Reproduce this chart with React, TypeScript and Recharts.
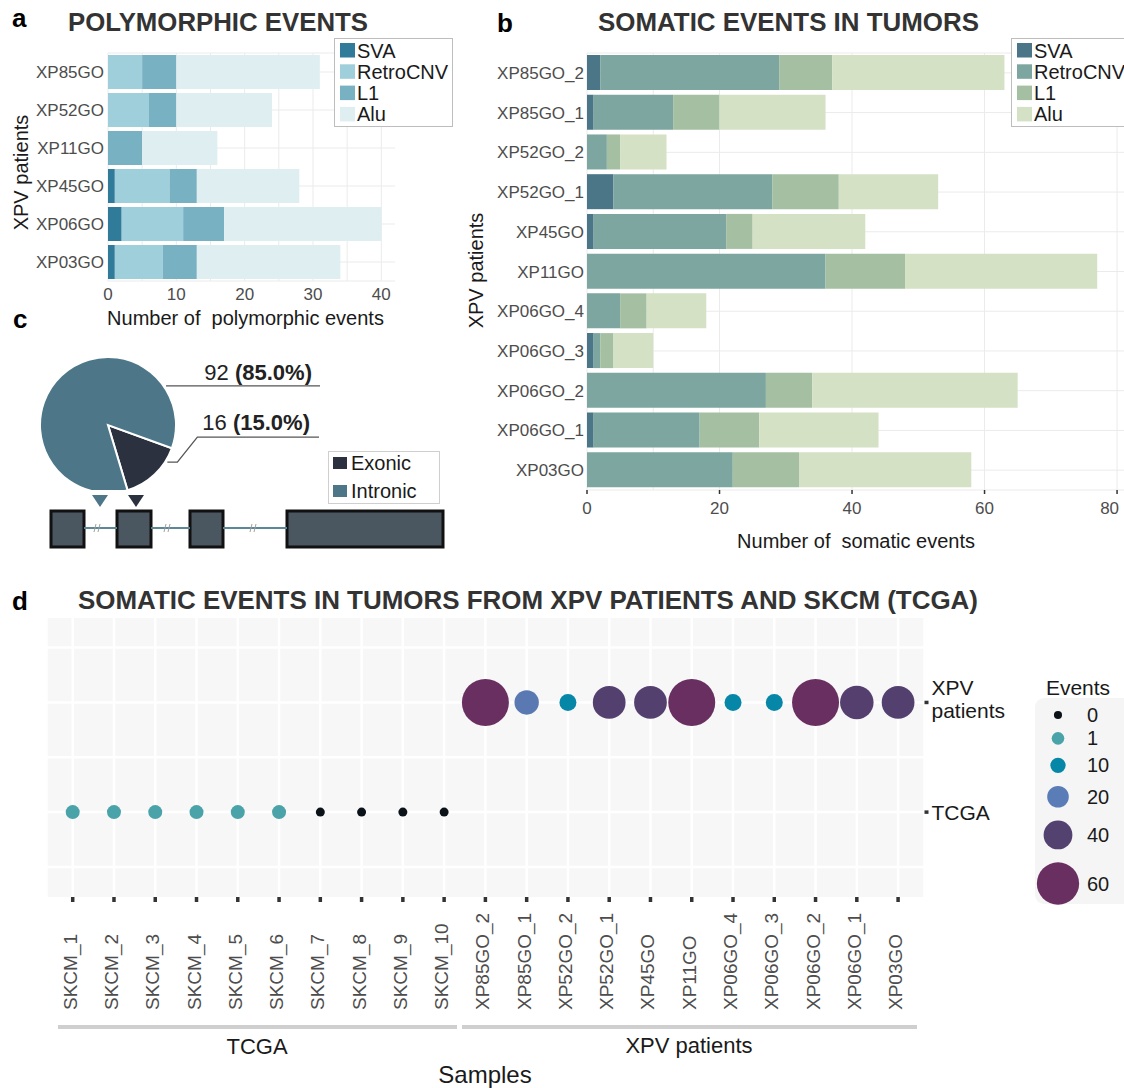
import React from "react";
import {
  BarChart,
  Bar,
  XAxis,
  YAxis,
  CartesianGrid,
  PieChart,
  Pie,
  Cell,
  ScatterChart,
  Scatter,
  ReferenceArea,
  ReferenceLine,
} from "recharts";

const FONT = '"Liberation Sans", Arial, Helvetica, sans-serif';

// ---- panel a: polymorphic events
const polyPatients = ["XP85GO", "XP52GO", "XP11GO", "XP45GO", "XP06GO", "XP03GO"];
const polySVA = [0, 0, 0, 1, 2, 1];
const polyRetroCNV = [5, 6, 0, 8, 9, 7];
const polyL1 = [5, 4, 5, 4, 6, 5];
const polyAlu = [21, 14, 11, 15, 23, 21];
const polyTicks = [0, 10, 20, 30, 40];

// ---- panel b: somatic events in tumors
const somaticSamples = [
  "XP85GO_2", "XP85GO_1", "XP52GO_2", "XP52GO_1", "XP45GO", "XP11GO",
  "XP06GO_4", "XP06GO_3", "XP06GO_2", "XP06GO_1", "XP03GO",
];
const somSVA = [2, 1, 0, 4, 1, 0, 0, 1, 0, 1, 0];
const somRetroCNV = [27, 12, 3, 24, 20, 36, 5, 1, 27, 16, 22];
const somL1 = [8, 7, 2, 10, 4, 12, 4, 2, 7, 9, 10];
const somAlu = [26, 16, 7, 15, 17, 29, 9, 6, 31, 18, 26];
const somaticTicks = [0, 20, 40, 60, 80];

const eventTypes = ["SVA", "RetroCNV", "L1", "Alu"];
const polyColors = ["#2f7b99", "#9ecfda", "#78b1c1", "#dfeef1"];
const somaticColors = ["#4a7688", "#7ca69f", "#a5bfa2", "#d4e1c5"];

// ---- panel c: location of somatic events
const locationNames = ["Exonic", "Intronic"];
const locationCounts = [16, 92];
const locationPct = ["15.0%", "85.0%"];
const locationColors = ["#2b313e", "#4d7789"];

// gene model, arbitrary units
const exons = [[51, 84], [117, 151], [190, 223], [287, 443]];
const insertionSites = [
  { pos: 100, kind: 1 },
  { pos: 136, kind: 0 },
];
const intronBreaks = [97, 167, 253];

// ---- panel d: XPV vs TCGA
const tcgaSamples = ["SKCM_1", "SKCM_2", "SKCM_3", "SKCM_4", "SKCM_5", "SKCM_6", "SKCM_7", "SKCM_8", "SKCM_9", "SKCM_10"];
const tcgaEvents = [1, 1, 1, 1, 1, 1, 0, 0, 0, 0];
const xpvSamples = somaticSamples;
const xpvEvents = [63, 21, 10, 41, 41, 66, 10, 10, 64, 42, 41];
const cohortLabels = [["TCGA"], ["XPV", "patients"]];
const eventBreaks = [0, 1, 10, 20, 40, 60];
const eventPalette = ["#0b1319", "#49a3a8", "#0787a8", "#5a7cb7", "#534170", "#6a2f61"];
const dotDiameters = [9, 14, 17, 24, 32, 47];

const polyData = polyPatients.map((patient, i) => ({
  patient,
  SVA: polySVA[i],
  RetroCNV: polyRetroCNV[i],
  L1: polyL1[i],
  Alu: polyAlu[i],
}));

const somaticData = somaticSamples.map((sample, i) => ({
  sample,
  SVA: somSVA[i],
  RetroCNV: somRetroCNV[i],
  L1: somL1[i],
  Alu: somAlu[i],
}));

const pieData = locationNames.map((name, i) => ({ name, value: locationCounts[i] }));

const allSamples = [...tcgaSamples, ...xpvSamples];
const dotData = [
  ...tcgaSamples.map((sample, i) => ({ sample, x: i + 1, y: 1, events: tcgaEvents[i] })),
  ...xpvSamples.map((sample, i) => ({ sample, x: tcgaSamples.length + i + 1, y: 2, events: xpvEvents[i] })),
];
const sampleTicks = allSamples.map((_, i) => i + 1);

function findSeg(v: number) {
  const n = eventBreaks.length;
  if (v <= eventBreaks[0]) return { i: 0, t: 0 };
  if (v >= eventBreaks[n - 1]) return { i: n - 2, t: 1 };
  let i = 0;
  while (v > eventBreaks[i + 1]) i++;
  return { i, t: (v - eventBreaks[i]) / (eventBreaks[i + 1] - eventBreaks[i]) };
}

function hexRgb(h: string) {
  return [1, 3, 5].map((k) => parseInt(h.slice(k, k + 2), 16));
}

function eventColor(v: number) {
  const { i, t } = findSeg(v);
  const a = hexRgb(eventPalette[i]);
  const b = hexRgb(eventPalette[i + 1]);
  const c = a.map((x, k) => Math.round(x + (b[k] - x) * t));
  return `rgb(${c[0]},${c[1]},${c[2]})`;
}

function dotDiameter(v: number) {
  const { i, t } = findSeg(v);
  return dotDiameters[i] + (dotDiameters[i + 1] - dotDiameters[i]) * t;
}

const tickStyle = { fill: "#4d4d4d", fontSize: 17 };

function PolyChart() {
  return (
    <div style={{ position: "absolute", left: 0, top: 0 }}>
      <BarChart
        width={460}
        height={340}
        data={polyData}
        layout="vertical"
        margin={{ top: 53, right: 65, bottom: 29, left: 8 }}
        barSize={34}
      >
        <CartesianGrid stroke="#ebebeb" verticalValues={[0, 5, 10, 15, 20, 25, 30, 35, 40]} />
        <XAxis
          type="number"
          domain={[0, 42]}
          ticks={polyTicks}
          axisLine={false}
          tickLine={false}
          tickSize={0}
          tickMargin={7}
          height={30}
          tick={tickStyle}
        />
        <YAxis
          type="category"
          dataKey="patient"
          width={100}
          axisLine={false}
          tickLine={false}
          tickSize={0}
          tickMargin={4}
          tick={tickStyle}
        />
        {eventTypes.map((k, i) => (
          <Bar key={k} dataKey={k} stackId="s" fill={polyColors[i]} isAnimationActive={false} />
        ))}
      </BarChart>
    </div>
  );
}

// last tick label of panel b sits at the page edge, so it is kept inside
function SomaticXTick(props: any) {
  const { x, y, payload } = props;
  const last = payload.value === somaticTicks[somaticTicks.length - 1];
  return (
    <text
      x={last ? x + 2 : x}
      y={y}
      dy="0.71em"
      textAnchor={last ? "end" : "middle"}
      fontSize={17}
      fill="#4d4d4d"
    >
      {payload.value}
    </text>
  );
}

function SomaticChart() {
  return (
    <div style={{ position: "absolute", left: 460, top: 0 }}>
      <BarChart
        width={680}
        height={560}
        data={somaticData}
        layout="vertical"
        margin={{ top: 53, right: 13, bottom: 40, left: 7 }}
        barSize={35}
      >
        <CartesianGrid stroke="#ebebeb" verticalValues={[0, 10, 20, 40, 60, 80]} />
        <XAxis
          type="number"
          domain={[0, 81.5]}
          ticks={somaticTicks}
          interval={0}
          axisLine={false}
          tickLine={{ stroke: "#333", strokeWidth: 1.5 }}
          tickSize={4}
          tickMargin={8}
          height={30}
          tick={(p: any) => <SomaticXTick {...p} />}
        />
        <YAxis
          type="category"
          dataKey="sample"
          width={120}
          axisLine={false}
          tickLine={false}
          tickSize={0}
          tickMargin={3}
          tick={tickStyle}
        />
        {eventTypes.map((k, i) => (
          <Bar key={k} dataKey={k} stackId="s" fill={somaticColors[i]} isAnimationActive={false} />
        ))}
      </BarChart>
    </div>
  );
}

// label anchors on the pie rim, per slice
const labelGeom = [
  { angle: -32, elbow: 10, rise: 25, lineEnd: 211, textEnd: 202, lift: 7 },
  { angle: 34, elbow: 0, rise: 0, lineEnd: 212, textEnd: 204, lift: 6 },
];

function renderPieLabel(props: any) {
  const { cx, cy, outerRadius, index, value } = props;
  const g = labelGeom[index];
  const rad = (g.angle * Math.PI) / 180;
  const sx = cx + (outerRadius + 2) * Math.cos(rad);
  const sy = cy - (outerRadius + 2) * Math.sin(rad);
  const ex = sx + g.elbow;
  const ky = sy - g.rise;
  const kx = ex + g.rise * 0.8;
  return (
    <g key={`lbl-${index}`}>
      <path
        d={`M${sx},${sy} L${ex},${sy} L${kx},${ky} L${cx + g.lineEnd},${ky}`}
        stroke="#555"
        strokeWidth={1.3}
        fill="none"
      />
      <text x={cx + g.textEnd} y={ky - g.lift} textAnchor="end" fontSize={22} fill="#222">
        {value}{" "}
        <tspan fontWeight="bold">({locationPct[index]})</tspan>
      </text>
    </g>
  );
}

function LocationPie() {
  return (
    <div style={{ position: "absolute", left: 0, top: 330 }}>
      <PieChart width={460} height={160}>
        <Pie
          data={pieData}
          dataKey="value"
          cx={103}
          cy={90}
          outerRadius={68}
          startAngle={-20}
          endAngle={-380}
          stroke="#fff"
          strokeWidth={2}
          label={renderPieLabel}
          labelLine={false}
          isAnimationActive={false}
        >
          {pieData.map((d, i) => (
            <Cell key={d.name} fill={locationColors[i]} />
          ))}
        </Pie>
      </PieChart>
    </div>
  );
}

function GeneModel() {
  const intronY = 24;
  const gaps = exons.slice(1).map((e, i) => [exons[i][1], e[0]]);
  return (
    <div style={{ position: "absolute", left: 0, top: 488 }}>
      <ScatterChart width={460} height={64} margin={{ top: 0, right: 0, bottom: 0, left: 0 }}>
        <XAxis type="number" dataKey="pos" domain={[0, 460]} hide />
        <YAxis type="number" dataKey="y" domain={[0, 64]} hide />
        {gaps.map(([a, b], i) => (
          <ReferenceLine
            key={`intron-${i}`}
            segment={[{ x: a, y: intronY }, { x: b, y: intronY }]}
            stroke="#5b8797"
            strokeWidth={2}
          />
        ))}
        {exons.map(([a, b], i) => (
          <ReferenceArea
            key={`exon-${i}`}
            x1={a}
            x2={b}
            y1={5}
            y2={41}
            fill="#4a5761"
            fillOpacity={1}
            stroke="#111"
            strokeWidth={3}
          />
        ))}
        <Scatter
          data={intronBreaks.map((pos) => ({ pos, y: intronY }))}
          isAnimationActive={false}
          shape={(p: any) => (
            <path
              d={`M${p.cx - 3},${p.cy + 4} L${p.cx - 1},${p.cy - 4} M${p.cx + 1},${p.cy + 4} L${p.cx + 3},${p.cy - 4}`}
              stroke="#a0a0a0"
              strokeWidth={1}
              fill="none"
            />
          )}
        />
        <Scatter
          data={insertionSites.map((s) => ({ ...s, y: 51 }))}
          isAnimationActive={false}
          shape={(p: any) => (
            <path
              d={`M${p.cx - 8},${p.cy - 6} L${p.cx + 8},${p.cy - 6} L${p.cx},${p.cy + 6} Z`}
              fill={locationColors[p.payload.kind]}
            />
          )}
        />
      </ScatterChart>
    </div>
  );
}

function SampleTick(props: any) {
  const { x, y, payload } = props;
  const label = allSamples[payload.value - 1];
  return (
    <text transform={`translate(${x + 4},${y + 106}) rotate(-90)`} fontSize={19} fill="#4d4d4d">
      {label}
    </text>
  );
}

function CohortTick(props: any) {
  const { x, y, payload } = props;
  const lines = cohortLabels[payload.value - 1] || [];
  if (lines.length === 1) {
    return (
      <text x={x} y={y + 8} fontSize={21} fill="#1a1a1a">
        {lines[0]}
      </text>
    );
  }
  return (
    <g>
      <text x={x} y={y - 7} fontSize={21} fill="#1a1a1a">
        {lines[0]}
      </text>
      <text x={x} y={y + 16} fontSize={21} fill="#1a1a1a">
        {lines[1]}
      </text>
    </g>
  );
}

function DotPlot() {
  return (
    <div style={{ position: "absolute", left: 0, top: 600 }}>
      <ScatterChart width={1124} height={427} margin={{ top: 18, right: 79.5, bottom: 0, left: 46.5 }}>
        <CartesianGrid
          fill="#f7f7f7"
          stroke="#fff"
          strokeWidth={2.5}
          horizontalValues={[0.5, 1, 1.5, 2, 2.5]}
        />
        <XAxis
          type="number"
          dataKey="x"
          domain={[0.365, 21.64]}
          ticks={sampleTicks}
          interval={0}
          height={130}
          axisLine={false}
          tickLine={{ stroke: "#333", strokeWidth: 3.5 }}
          tickSize={5}
          tickMargin={2}
          tick={(p: any) => <SampleTick {...p} />}
        />
        <YAxis
          type="number"
          dataKey="y"
          orientation="right"
          domain={[0.226, 2.77]}
          ticks={[1, 2]}
          width={120}
          axisLine={false}
          tickLine={{ stroke: "#333", strokeWidth: 3.5 }}
          tickSize={4}
          tickMargin={3}
          tick={(p: any) => <CohortTick {...p} />}
        />
        <Scatter
          data={dotData}
          isAnimationActive={false}
          shape={(p: any) => (
            <circle
              cx={p.cx}
              cy={p.cy}
              r={dotDiameter(p.payload.events) / 2}
              fill={eventColor(p.payload.events)}
            />
          )}
        />
      </ScatterChart>
    </div>
  );
}

function BoxLegend({ x, y, w, colors }: { x: number; y: number; w: number; colors: string[] }) {
  return (
    <g>
      <rect x={x + 0.5} y={y + 0.5} width={w} height={88} fill="#fff" stroke="#bdbdbd" />
      {eventTypes.map((name, i) => (
        <g key={name}>
          <rect x={x + 6} y={y + 5 + i * 21.3} width={15} height={14.5} fill={colors[i]} />
          <text x={x + 23} y={y + 19.5 + i * 21.3} fontSize={20} fill="#1a1a1a">
            {name}
          </text>
        </g>
      ))}
    </g>
  );
}

function EventsLegend() {
  const ds = dotDiameters.map((d) => d * 0.9);
  const ys: number[] = [];
  ds.forEach((d, i) => {
    ys.push(i === 0 ? 715 : ys[i - 1] + (ds[i - 1] + d) / 2 + 13);
  });
  return (
    <g>
      <text x={1078} y={695} textAnchor="middle" fontSize={21} fill="#1a1a1a">
        Events
      </text>
      <rect x={1035} y={698} width={110} height={206} rx={9} fill="#f5f5f5" />
      {eventBreaks.map((v, i) => (
        <g key={v}>
          <circle cx={1058} cy={ys[i]} r={ds[i] / 2} fill={eventColor(v)} />
          <text x={1087} y={ys[i] + 7} fontSize={20} fill="#1a1a1a">
            {v}
          </text>
        </g>
      ))}
    </g>
  );
}

function Overlay() {
  const title = { fontWeight: "bold" as const, fill: "#333" };
  const axisTitle = { fontSize: 20, fill: "#1a1a1a" };
  return (
    <svg
      width={1124}
      height={1088}
      style={{ position: "absolute", left: 0, top: 0, pointerEvents: "none" }}
      fontFamily={FONT}
    >
      {/* a */}
      <text x={12} y={27} fontSize={26} fontWeight="bold" fill="#000">a</text>
      <text x={68} y={31} fontSize={25} {...title} textLength={300} lengthAdjust="spacingAndGlyphs">
        POLYMORPHIC EVENTS
      </text>
      <text transform="translate(28,172.5) rotate(-90)" textAnchor="middle" {...axisTitle}>
        XPV patients
      </text>
      <text x={245.5} y={325} textAnchor="middle" {...axisTitle} xmlSpace="preserve" style={{ whiteSpace: "pre" }}>
        Number of  polymorphic events
      </text>
      <BoxLegend x={334} y={38} w={118} colors={polyColors} />

      {/* b */}
      <text x={497} y={32} fontSize={26} fontWeight="bold" fill="#000">b</text>
      <text x={598} y={31} fontSize={25} {...title} textLength={381} lengthAdjust="spacingAndGlyphs">
        SOMATIC EVENTS IN TUMORS
      </text>
      <text transform="translate(483,270.5) rotate(-90)" textAnchor="middle" {...axisTitle}>
        XPV patients
      </text>
      <text x={856} y={548} textAnchor="middle" {...axisTitle} xmlSpace="preserve" style={{ whiteSpace: "pre" }}>
        Number of  somatic events
      </text>
      <BoxLegend x={1011} y={38} w={200} colors={somaticColors} />

      {/* c */}
      <text x={13} y={328} fontSize={26} fontWeight="bold" fill="#000">c</text>
      <rect x={328.5} y={451.5} width={111} height={52} fill="#fff" stroke="#cfcfcf" />
      {locationNames.map((name, i) => (
        <g key={name}>
          <rect x={333} y={457 + i * 28} width={14} height={12} fill={locationColors[i]} />
          <text x={351} y={470 + i * 28} fontSize={20} fill="#1a1a1a">
            {name}
          </text>
        </g>
      ))}

      {/* d */}
      <text x={12} y={610} fontSize={26} fontWeight="bold" fill="#000">d</text>
      <text x={78} y={609} fontSize={26} {...title} textLength={900} lengthAdjust="spacingAndGlyphs">
        SOMATIC EVENTS IN TUMORS FROM XPV PATIENTS AND SKCM (TCGA)
      </text>
      <line x1={58} x2={457} y1={1027} y2={1027} stroke="#cfcfcf" strokeWidth={4} />
      <line x1={462} x2={917} y1={1027} y2={1027} stroke="#cfcfcf" strokeWidth={4} />
      <text x={257} y={1054} textAnchor="middle" fontSize={22} fill="#1a1a1a">TCGA</text>
      <text x={689} y={1053} textAnchor="middle" fontSize={22} fill="#1a1a1a">XPV patients</text>
      <text x={485} y={1083} textAnchor="middle" fontSize={24} fill="#1a1a1a">Samples</text>
      <EventsLegend />
    </svg>
  );
}

export default function App() {
  return (
    <div
      style={{
        position: "absolute",
        left: 0,
        top: 0,
        width: 1124,
        height: 1088,
        overflow: "hidden",
        background: "#fff",
        fontFamily: FONT,
      }}
    >
      <PolyChart />
      <SomaticChart />
      <LocationPie />
      <GeneModel />
      <DotPlot />
      <Overlay />
    </div>
  );
}
